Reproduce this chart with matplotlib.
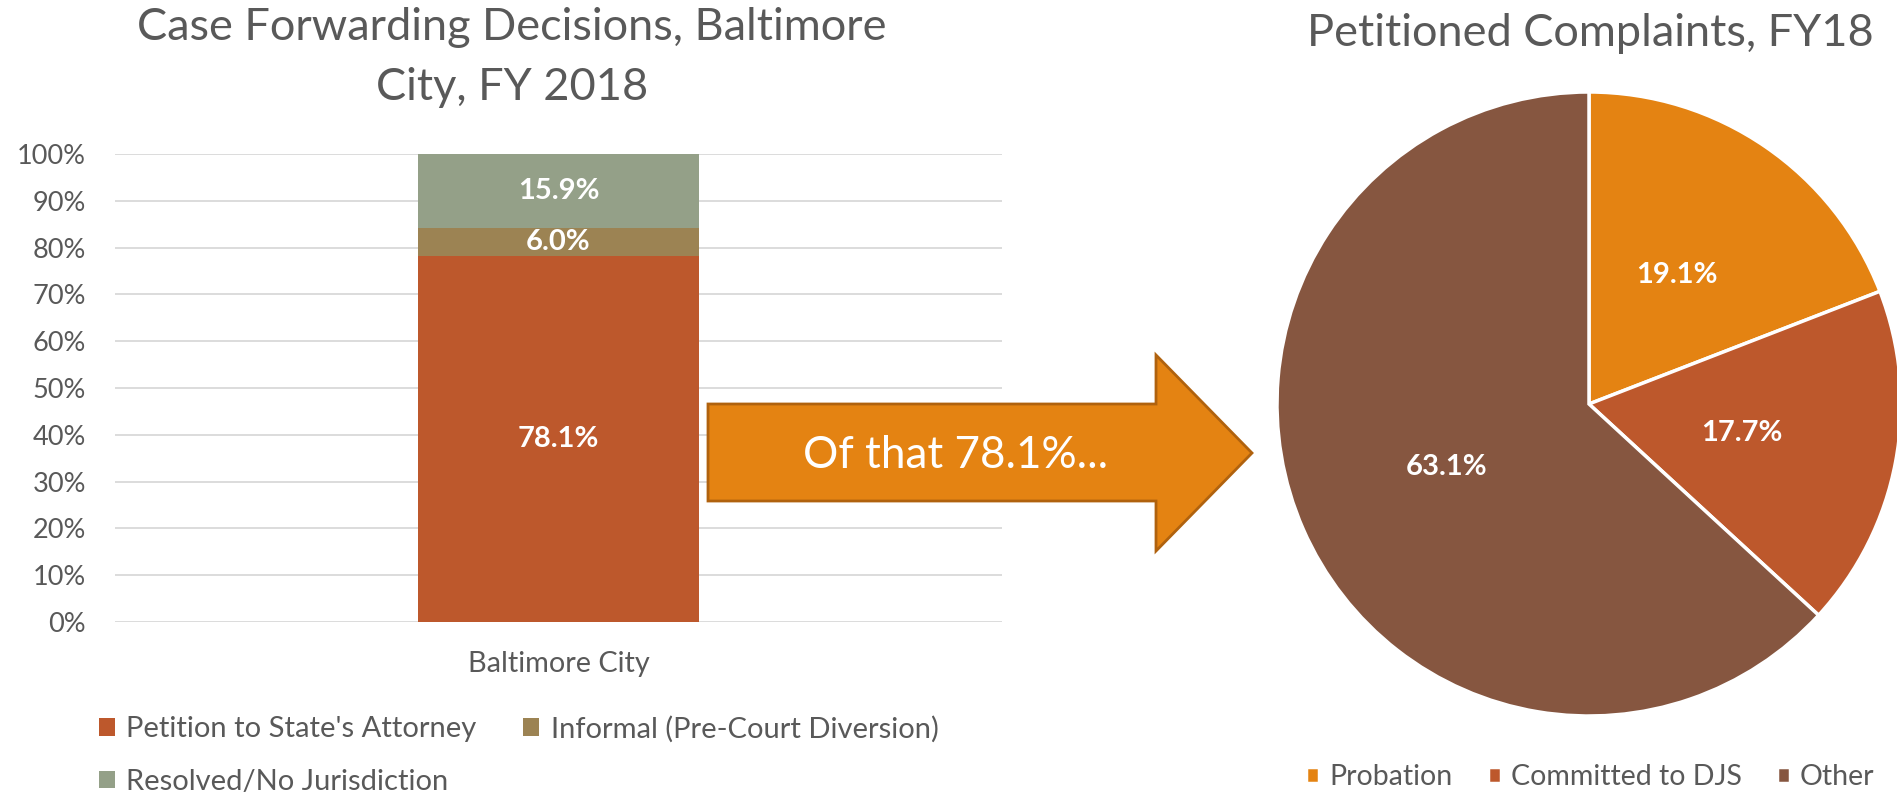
import matplotlib
matplotlib.use("Agg")
import matplotlib.pyplot as plt
from matplotlib.patches import Polygon
from matplotlib.ticker import PercentFormatter

plt.rcParams['font.family'] = ['Lato', 'DejaVu Sans']

# 左图数据：案件移送决定（堆叠柱）
bar_category = ["Baltimore City"]
bar_series = ["Petition to State's Attorney", "Informal (Pre-Court Diversion)", "Resolved/No Jurisdiction"]
bar_values = [78.1, 6.0, 15.9]
bar_colors = ["#BD582C", "#9C8353", "#94A088"]

# 右图数据：请愿投诉去向（饼图）
pie_labels = ["Probation", "Committed to DJS", "Other"]
pie_values = [19.1, 17.7, 63.1]
pie_colors = ["#E48312", "#BD582C", "#865640"]

arrow_text = "Of that 78.1%..."
gray = "#595959"

W, H = 1897, 795
fig = plt.figure(figsize=(W / 100, H / 100), dpi=100)

# 标题
fig.text(512 / W, 1 - 27 / H, "Case Forwarding Decisions, Baltimore", ha='center', va='center',
         fontsize=32.5, color=gray)
fig.text(512 / W, 1 - 88 / H, "City, FY 2018", ha='center', va='center', fontsize=32.5, color=gray)
fig.text(1590 / W, 1 - 33 / H, "Petitioned Complaints, FY18", ha='center', va='center',
         fontsize=32.5, color=gray)

# 左侧堆叠柱状图
ax = fig.add_axes([115 / W, 1 - 622 / H, 887 / W, 468 / H])
bottom = 0
for name, v, c in zip(bar_series, bar_values, bar_colors):
    bars = ax.bar(bar_category, [v], bottom=bottom, width=0.316, color=c, label=name, zorder=3)
    ax.bar_label(bars, labels=[f"{v:.1f}%"], label_type='center', color='white',
                 fontsize=21, fontweight='bold')
    bottom += v
ax.set_xlim(-0.5, 0.5)
ax.set_ylim(0, 100)
ax.set_yticks(range(0, 101, 10))
ax.yaxis.set_major_formatter(PercentFormatter(decimals=0))
ax.grid(axis='y', color='#D9D9D9', linewidth=1.3, zorder=0)
for s in ax.spines.values():
    s.set_visible(False)
ax.tick_params(axis='y', length=0, pad=21, labelsize=19.5, labelcolor=gray)
ax.tick_params(axis='x', length=0, pad=21, labelsize=20.8, labelcolor=gray)

# 左侧图例
h = ax.get_legend_handles_labels()[0]
fig.legend([h[0], h[2], h[1]], [bar_series[0], bar_series[2], bar_series[1]],
           loc='upper left', bbox_to_anchor=(84 / W, 1 - 701 / H), ncol=2, frameon=False,
           fontsize=21, labelcolor=gray, handlelength=0.55, handleheight=0.55,
           handletextpad=0.4, columnspacing=1.6, labelspacing=0.9, borderpad=0)

# 中间箭头
pts = [(708, 404), (1156, 404), (1156, 355), (1252, 453), (1156, 551), (1156, 501), (708, 501)]
arrow = Polygon([(x / W, 1 - y / H) for x, y in pts], closed=True, transform=fig.transFigure,
                facecolor="#E48312", edgecolor="#B0620E", linewidth=2)
fig.patches.append(arrow)
fig.text(956 / W, 1 - 455 / H, arrow_text, ha='center', va='center', fontsize=31.7, color='white')

# 右侧饼图
ax2 = fig.add_axes([(1589 - 312) / W, (H - 404 - 312) / H, 624 / W, 624 / H])
wedges, texts, autotexts = ax2.pie(pie_values, colors=pie_colors, startangle=90, counterclock=False,
                                   autopct='%.1f%%', pctdistance=0.5,
                                   wedgeprops=dict(edgecolor='white', linewidth=2.5),
                                   textprops=dict(color='white', fontsize=21, fontweight='bold'))
for t, v in zip(autotexts, pie_values):
    t.set_text(f"{v:.1f}%")
ax2.set_xlim(-1, 1)
ax2.set_ylim(-1, 1)

fig.legend(wedges, pie_labels, loc='center left', bbox_to_anchor=(1292 / W, 1 - 777 / H), ncol=3,
           frameon=False, fontsize=20.5, labelcolor=gray, handlelength=0.45, handleheight=0.45,
           handletextpad=0.35, columnspacing=1.25, borderpad=0)

fig.savefig("out.png", dpi=100)
